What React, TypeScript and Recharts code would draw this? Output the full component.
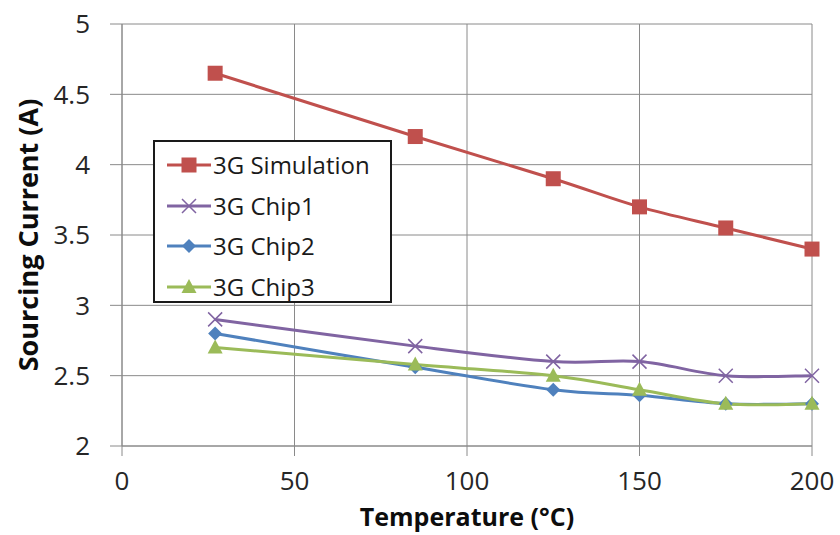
import { LineChart, Line, XAxis, YAxis, CartesianGrid } from 'recharts'

const temperatures = [27, 85, 125, 150, 175, 200]
const simulation = [4.65, 4.2, 3.9, 3.7, 3.55, 3.4]
const chip1 = [2.9, 2.71, 2.6, 2.6, 2.5, 2.5]
const chip2 = [2.8, 2.56, 2.4, 2.36, 2.3, 2.3]
const chip3 = [2.7, 2.58, 2.5, 2.4, 2.3, 2.3]

const xTicks = [0, 50, 100, 150, 200]
const yTicks = [2, 2.5, 3, 3.5, 4, 4.5, 5]

const data = temperatures.map((t, i) => ({
  temp: t,
  sim: simulation[i],
  chip1: chip1[i],
  chip2: chip2[i],
  chip3: chip3[i],
}))

const FONT = '"Open Sans", sans-serif'
const GRID = '#8a8a8a'

// spreadsheet-style smoothed line: cubic bezier with 1/6 tangents
const smoothCurve = (context: any) => {
  let xs: number[] = []
  let ys: number[] = []
  return {
    areaStart() {},
    areaEnd() {},
    lineStart() {
      xs = []
      ys = []
    },
    point(x: number, y: number) {
      xs.push(+x)
      ys.push(+y)
    },
    lineEnd() {
      const n = xs.length
      if (!n) return
      context.moveTo(xs[0], ys[0])
      for (let i = 0; i < n - 1; i++) {
        const p = Math.max(i - 1, 0)
        const q = Math.min(i + 2, n - 1)
        context.bezierCurveTo(
          xs[i] + (xs[i + 1] - xs[p]) / 6,
          ys[i] + (ys[i + 1] - ys[p]) / 6,
          xs[i + 1] - (xs[q] - xs[i]) / 6,
          ys[i + 1] - (ys[q] - ys[i]) / 6,
          xs[i + 1],
          ys[i + 1]
        )
      }
    },
  }
}

type MarkerKind = 'square' | 'cross' | 'diamond' | 'triangle'

function Marker({ kind, cx, cy, color }: { kind: MarkerKind; cx: number; cy: number; color: string }) {
  if (kind === 'square') {
    return <rect x={cx - 7.5} y={cy - 7.5} width={15} height={15} fill={color} />
  }
  if (kind === 'cross') {
    return (
      <path
        d={`M${cx - 7},${cy - 7}L${cx + 7},${cy + 7}M${cx - 7},${cy + 7}L${cx + 7},${cy - 7}`}
        stroke={color}
        strokeWidth={1.5}
        fill="none"
      />
    )
  }
  if (kind === 'diamond') {
    return <path d={`M${cx},${cy - 7}L${cx + 7},${cy}L${cx},${cy + 7}L${cx - 7},${cy}Z`} fill={color} />
  }
  return <path d={`M${cx},${cy - 8}L${cx + 7.5},${cy + 6}L${cx - 7.5},${cy + 6}Z`} fill={color} />
}

const series = [
  { key: 'sim', name: '3G Simulation', color: '#C0504D', marker: 'square' as MarkerKind },
  { key: 'chip1', name: '3G Chip1', color: '#8064A2', marker: 'cross' as MarkerKind },
  { key: 'chip2', name: '3G Chip2', color: '#4F81BD', marker: 'diamond' as MarkerKind },
  { key: 'chip3', name: '3G Chip3', color: '#9BBB59', marker: 'triangle' as MarkerKind },
]

function LegendBox() {
  return (
    <div
      style={{
        position: 'absolute',
        left: 153,
        top: 140,
        width: 235,
        height: 156,
        border: '2px solid #1a1a1a',
        background: '#fff',
        fontFamily: FONT,
        fontSize: 24,
        color: '#1a1a1a',
        paddingTop: 3,
      }}
    >
      {series.map(s => (
        <div key={s.key} style={{ display: 'flex', alignItems: 'center', height: 40.5 }}>
          <svg width={58} height={24} style={{ flex: 'none' }}>
            <line x1={12} y1={12} x2={56} y2={12} stroke={s.color} strokeWidth={3} />
            <Marker kind={s.marker} cx={34} cy={12} color={s.color} />
          </svg>
          <span style={{ lineHeight: '24px' }}>{s.name}</span>
        </div>
      ))}
    </div>
  )
}

export default function App() {
  return (
    <div style={{ position: 'absolute', left: 0, top: 0, width: 840, height: 535, background: '#fff' }}>
      <LineChart
        width={840}
        height={535}
        data={data}
        margin={{ top: 24, right: 28, bottom: 0, left: 0 }}
        style={{ fontFamily: FONT }}
      >
        <CartesianGrid stroke={GRID} strokeWidth={1} />
        <XAxis
          dataKey="temp"
          type="number"
          domain={[0, 200]}
          ticks={xTicks}
          height={89}
          stroke={GRID}
          tickSize={10}
          tickMargin={16}
          tick={{ fill: '#262626', fontSize: 26 }}
          label={{
            value: 'Temperature (°C)',
            position: 'insideBottom',
            offset: 9,
            style: { fill: '#0d0d0d', fontSize: 25, fontWeight: 700 },
          }}
        />
        <YAxis
          type="number"
          domain={[2, 5]}
          ticks={yTicks}
          width={122}
          stroke={GRID}
          tickSize={12}
          tickMargin={20}
          tick={{ fill: '#262626', fontSize: 26 }}
          label={{
            value: 'Sourcing Current (A)',
            angle: -90,
            position: 'insideLeft',
            offset: 28,
            style: { fill: '#0d0d0d', fontSize: 27, fontWeight: 700, textAnchor: 'middle' },
          }}
        />
        {series.map(s => (
          <Line
            key={s.key}
            dataKey={s.key}
            name={s.name}
            type={smoothCurve as any}
            stroke={s.color}
            strokeWidth={3}
            isAnimationActive={false}
            dot={(props: any) => (
              <Marker key={`${s.key}-${props.index}`} kind={s.marker} cx={props.cx} cy={props.cy} color={s.color} />
            )}
            activeDot={false}
          />
        ))}
      </LineChart>
      <LegendBox />
    </div>
  )
}
